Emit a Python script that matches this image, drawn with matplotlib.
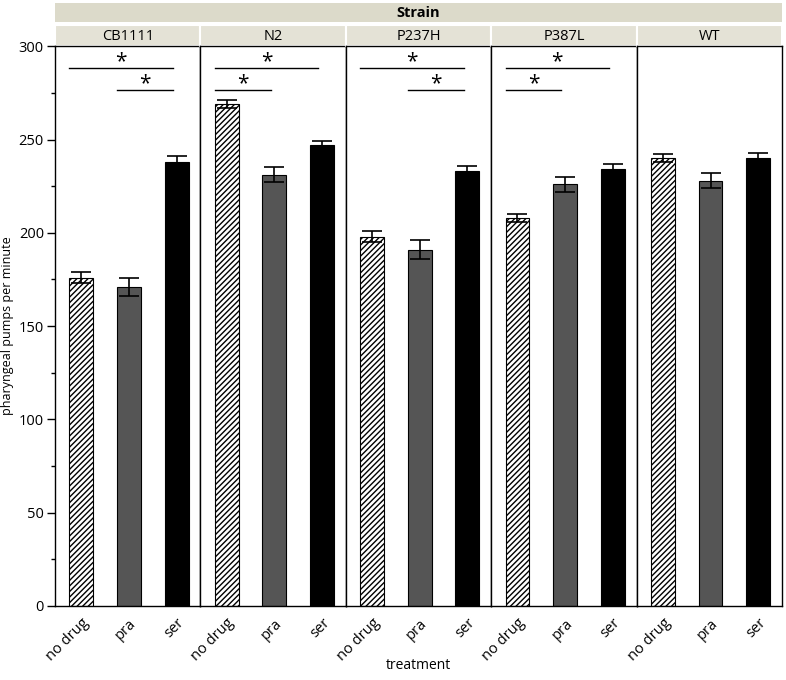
import matplotlib.pyplot as plt
from matplotlib.patches import Rectangle
from matplotlib.ticker import MultipleLocator
from matplotlib.transforms import ScaledTranslation

plt.rcParams['font.family'] = ['Open Sans', 'DejaVu Sans']

# ---- data ----
strains = ['CB1111', 'N2', 'P237H', 'P387L', 'WT']
treatments = ['no drug', 'pra', 'ser']
means = {
    'CB1111': [176, 171, 238],
    'N2': [269, 231, 247],
    'P237H': [198, 191, 233],
    'P387L': [208, 226, 234],
    'WT': [240, 228, 240],
}
errs = {
    'CB1111': [3, 5, 3],
    'N2': [2, 4, 2],
    'P237H': [3, 5, 3],
    'P387L': [2, 4, 3],
    'WT': [2, 4, 3],
}
# significance brackets: (from, to, height)
sig = {
    'CB1111': [(0, 2, 288.5), (1, 2, 276.5)],
    'N2': [(0, 2, 288.5), (0, 1, 276.5)],
    'P237H': [(0, 2, 288.5), (1, 2, 276.5)],
    'P387L': [(0, 2, 288.5), (0, 1, 276.5)],
    'WT': [],
}

faces = ['white', '#555555', 'black']
hatches = ['//////', None, None]

fig, axes = plt.subplots(1, 5, figsize=(7.86, 6.8), dpi=100, sharey=True)
fig.subplots_adjust(left=0.070, right=0.995, bottom=0.109, top=0.932, wspace=0)

# nudge the rotated tick labels a little to the right
shift = ScaledTranslation(6 / 72, 0, fig.dpi_scale_trans)

for i, (ax, s) in enumerate(zip(axes, strains)):
    x = range(len(treatments))
    for j in x:
        ax.bar(j, means[s][j], width=0.5, color=faces[j], hatch=hatches[j],
               edgecolor='black', linewidth=0.8)
        ax.errorbar(j, means[s][j], yerr=errs[s][j], color='black',
                    capsize=7, elinewidth=1.2, capthick=1.2)
    for a, b, h in sig[s]:
        x0, x1 = a - 0.25, b - 0.08
        ax.plot([x0, x1], [h, h], color='black', lw=1)
        ax.text((x0 + x1) / 2, h + 3.2, '*', ha='center', va='center',
                fontsize=15)
    ax.set_xlim(-0.55, 2.5)
    ax.set_ylim(0, 300)
    ax.set_xticks(list(x))
    ax.set_xticklabels(treatments, rotation=45, ha='right', rotation_mode='anchor',
                       fontsize=10.5)
    for lab in ax.get_xticklabels():
        lab.set_transform(lab.get_transform() + shift)
    ax.tick_params(axis='x', length=0, pad=7)
    for sp in ax.spines.values():
        sp.set_color('black')
        sp.set_linewidth(1)
    if i > 0:
        ax.tick_params(axis='y', which='both', left=False)
    # strain strip
    ax.add_patch(Rectangle((0, 1.0), 1, 0.0375, transform=ax.transAxes,
                           facecolor='#e4e2d6', edgecolor='white', lw=1.5,
                           clip_on=False))
    ax.text(0.5, 1.018, s, transform=ax.transAxes, ha='center', va='center',
            fontsize=10.5)

ax0 = axes[0]
ax0.yaxis.set_major_locator(MultipleLocator(50))
ax0.yaxis.set_minor_locator(MultipleLocator(25))
ax0.tick_params(axis='y', which='major', length=6, labelsize=10.5, width=1, pad=2)
ax0.tick_params(axis='y', which='minor', length=3, width=1)
ax0.set_ylabel('pharyngeal pumps per minute', fontsize=9, labelpad=3)

# top "Strain" strip
fig.patches.append(Rectangle((0.070, 0.9675), 0.925, 0.0285, transform=fig.transFigure,
                             facecolor='#dcdaca', edgecolor='none'))
fig.text(0.5325, 0.981, 'Strain', ha='center', va='center', fontsize=10.5,
         fontweight='bold')
fig.text(0.5325, 0.021, 'treatment', ha='center', va='center', fontsize=10)

fig.savefig('out.png', dpi=100)
